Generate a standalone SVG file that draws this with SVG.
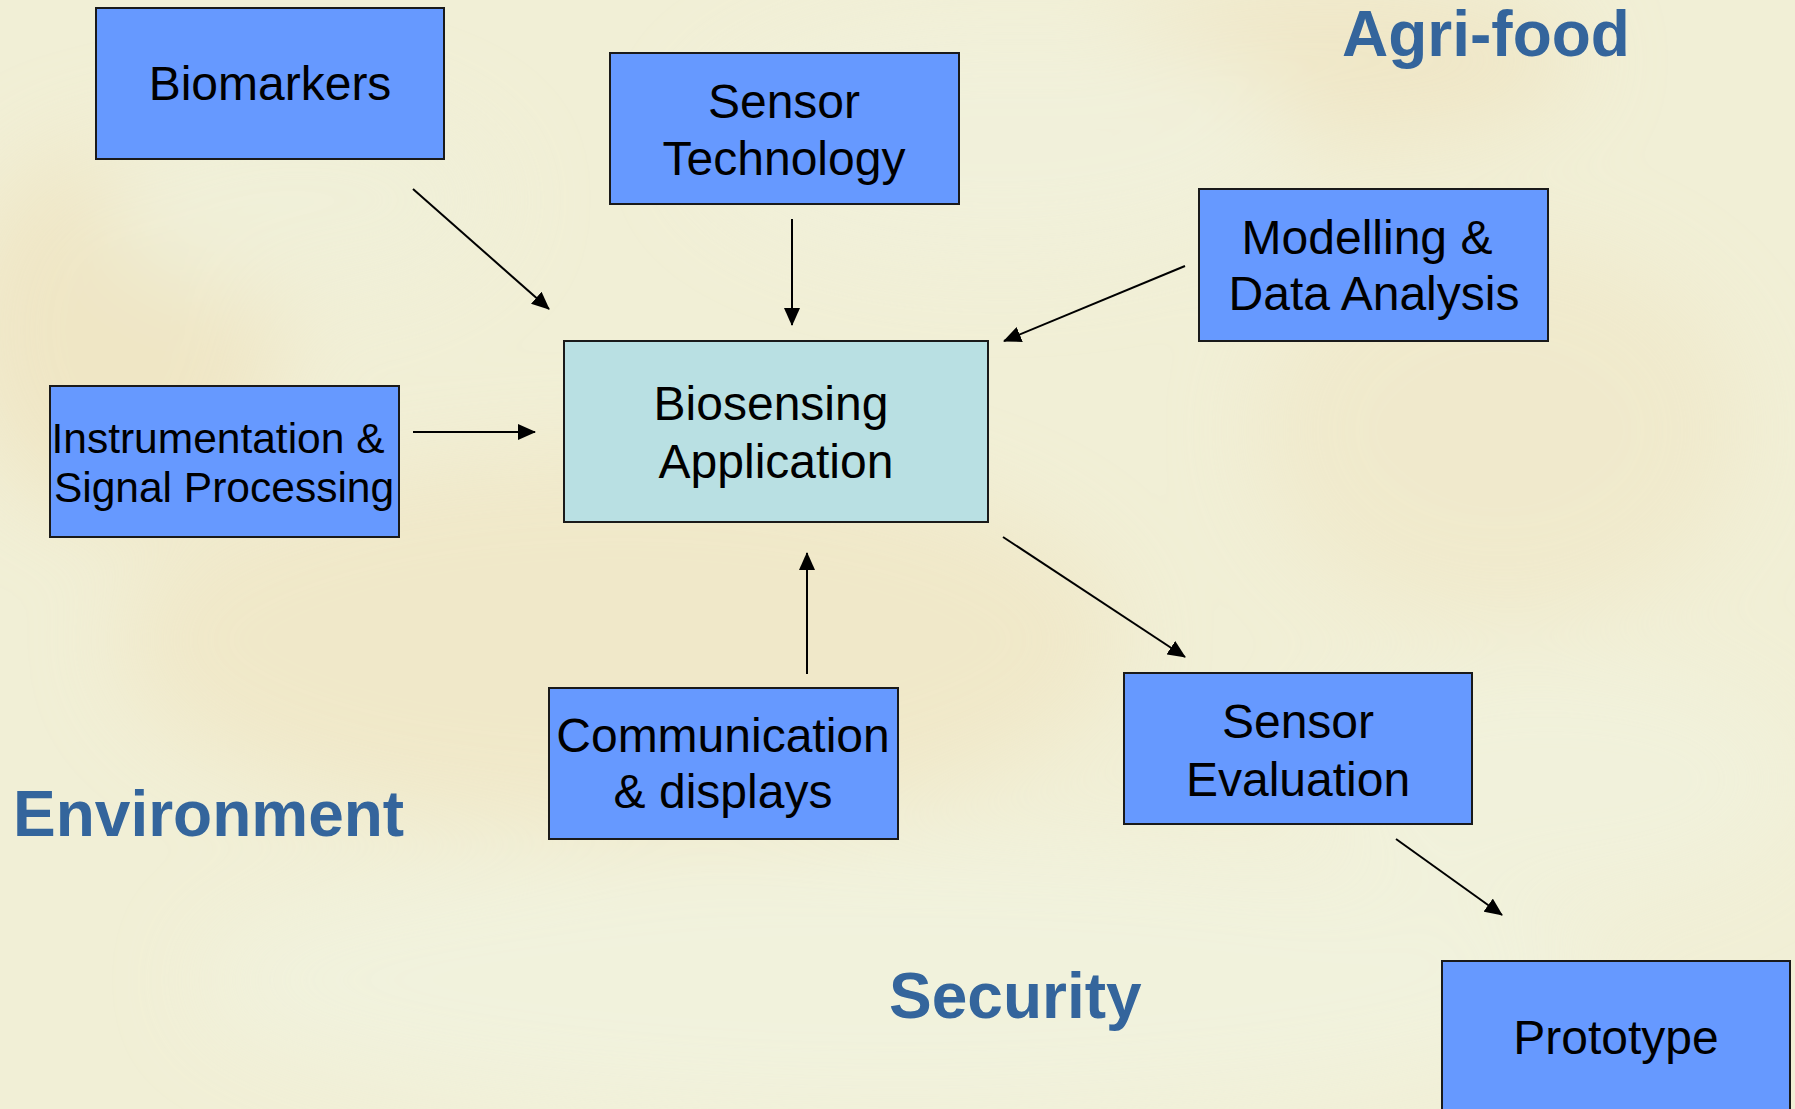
<svg xmlns="http://www.w3.org/2000/svg" width="1795" height="1109" viewBox="0 0 1795 1109">
  <defs>
    <style>
      .box { fill: #6699ff; stroke: #1a1a1a; stroke-width: 2; }
      .core { fill: #b9e0e3; stroke: #1a1a1a; stroke-width: 2; }
      .lbl { font-family: "Liberation Sans", Arial, sans-serif; font-size: 48px; fill: #000; text-anchor: middle; }
      .small { font-size: 42.5px; }
      .sector { font-family: "Liberation Sans", Arial, sans-serif; font-size: 64px; font-weight: bold; fill: #34659c; }
      .conn line { stroke: #000; stroke-width: 2; marker-end: url(#arrow); }
    </style>
    <marker id="arrow" markerUnits="userSpaceOnUse" markerWidth="18" markerHeight="16" viewBox="0 0 18 16" refX="17" refY="8" orient="auto">
      <path d="M0,0 L18,8 L0,16 z" fill="#000"/>
    </marker>
    <filter id="blur" x="-20%" y="-20%" width="140%" height="140%">
      <feGaussianBlur stdDeviation="45"/>
    </filter>
  </defs>

  <!-- background -->
  <rect x="0" y="0" width="1795" height="1109" fill="#f1efd6"/>
  <g filter="url(#blur)" opacity="0.75">
    <ellipse cx="120" cy="330" rx="160" ry="190" fill="#efe3c0"/>
    <ellipse cx="620" cy="640" rx="500" ry="190" fill="#f0e6c5"/>
    <ellipse cx="1330" cy="60" rx="250" ry="85" fill="#efe4c2"/>
    <ellipse cx="1500" cy="430" rx="240" ry="190" fill="#f0e8c9"/>
    <ellipse cx="900" cy="980" rx="700" ry="140" fill="#f1f3df"/>
    <ellipse cx="1000" cy="140" rx="300" ry="120" fill="#f1f1dc"/>
    <ellipse cx="300" cy="200" rx="200" ry="100" fill="#f0f0d9"/>
    <ellipse cx="1550" cy="780" rx="250" ry="120" fill="#f1f2dd"/>
  </g>

  <!-- sector labels -->
  <text class="sector" x="1342" y="56">Agri-food</text>
  <text class="sector" x="13" y="836">Environment</text>
  <text class="sector" x="889" y="1018">Security</text>

  <!-- connectors -->
  <g id="connectors" class="conn">
    <line x1="413" y1="189" x2="549" y2="309"/>
    <line x1="792" y1="219" x2="792" y2="325"/>
    <line x1="1185" y1="266" x2="1004" y2="341"/>
    <line x1="413" y1="432" x2="535" y2="432"/>
    <line x1="807" y1="674" x2="807" y2="553"/>
    <line x1="1003" y1="537" x2="1185" y2="657"/>
    <line x1="1396" y1="839" x2="1502" y2="915"/>
  </g>

  <!-- nodes -->
  <g id="biomarkers">
    <rect class="box" x="96" y="8" width="348" height="151"/>
    <text class="lbl" x="270" y="100">Biomarkers</text>
  </g>
  <g id="sensor-technology">
    <rect class="box" x="610" y="53" width="349" height="151"/>
    <text class="lbl" x="784" y="118">Sensor</text>
    <text class="lbl" x="784" y="175">Technology</text>
  </g>
  <g id="modelling">
    <rect class="box" x="1199" y="189" width="349" height="152"/>
    <text class="lbl" x="1367" y="254">Modelling &amp;</text>
    <text class="lbl" x="1374" y="310">Data Analysis</text>
  </g>
  <g id="instrumentation">
    <rect class="box" x="50" y="386" width="349" height="151"/>
    <text class="lbl small" x="218" y="453">Instrumentation &amp;</text>
    <text class="lbl small" x="224" y="502">Signal Processing</text>
  </g>
  <g id="biosensing">
    <rect class="core" x="564" y="341" width="424" height="181"/>
    <text class="lbl" x="771" y="420">Biosensing</text>
    <text class="lbl" x="776" y="478">Application</text>
  </g>
  <g id="communication">
    <rect class="box" x="549" y="688" width="349" height="151"/>
    <text class="lbl" x="723" y="752">Communication</text>
    <text class="lbl" x="723" y="808">&amp; displays</text>
  </g>
  <g id="sensor-evaluation">
    <rect class="box" x="1124" y="673" width="348" height="151"/>
    <text class="lbl" x="1298" y="738">Sensor</text>
    <text class="lbl" x="1298" y="796">Evaluation</text>
  </g>
  <g id="prototype">
    <rect class="box" x="1442" y="961" width="348" height="160"/>
    <text class="lbl" x="1616" y="1054">Prototype</text>
  </g>
</svg>
